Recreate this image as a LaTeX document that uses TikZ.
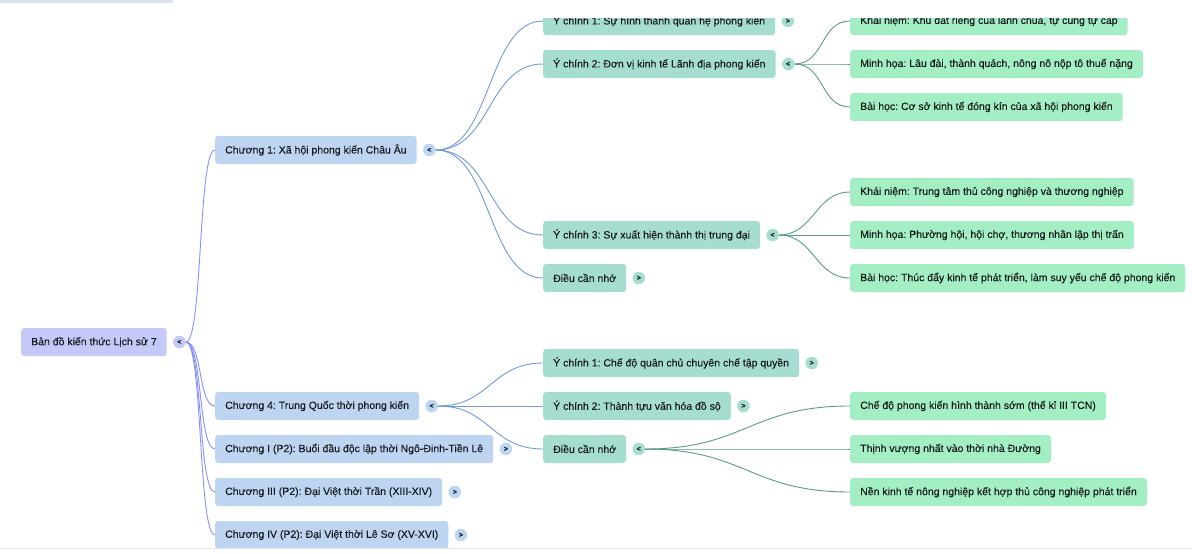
\documentclass[tikz,border=0pt]{standalone}
\usepackage{fontspec}
\setmainfont{Liberation Sans}[FakeBold=0.15]
\frenchspacing
\usetikzlibrary{positioning}
\definecolor{txt}{HTML}{16191D}
\definecolor{rootc}{HTML}{C4C9F8}
\definecolor{chc}{HTML}{BDD5F0}
\definecolor{yc}{HTML}{A6DDD1}
\definecolor{gc}{HTML}{A3EEC3}
\definecolor{rootedge}{HTML}{8990F5}
\definecolor{chedge}{HTML}{6F9AD8}
\definecolor{yedge}{HTML}{5A9B8C}
\definecolor{topstrip}{HTML}{DCE2EA}
\definecolor{botline}{HTML}{E3E6EA}
\tikzset{
  box/.style={rectangle, rounded corners=3pt, minimum height=28pt, inner xsep=10pt, inner ysep=0pt, anchor=west, font=\fontsize{10.5}{12}\selectfont, text=txt},
  rootbox/.style={box, fill=rootc},
  chbox/.style={box, fill=chc},
  ybox/.style={box, fill=yc},
  gbox/.style={box, fill=gc},
  btn/.style={circle, minimum size=12.5pt, inner sep=0pt, font=\fontsize{7}{8}\selectfont\bfseries, text=txt},
  redge/.style={draw=rootedge, line width=0.9pt},
  cedge/.style={draw=chedge, line width=0.9pt},
  yedg/.style={draw=yedge, line width=0.9pt}
}
\begin{document}
\begin{tikzpicture}[x=1pt,y=-1pt]
\useasboundingbox (0,0) rectangle (1192,554);
\fill[white] (0,0) rectangle (1192,554);
\begin{scope}
\clip (0,18) rectangle (1192,548);
% root
\node[rootbox] (root) at (21,342) {Bản đồ kiến thức Lịch sử 7};
\node[btn, fill=rootc, right=6pt of root] (rb) {<};
% chapters
\node[chbox] (c1) at (215,150) {Chương 1: Xã hội phong kiến Châu Âu};
\node[btn, fill=chc, right=6pt of c1] (b1) {<};
\node[chbox] (c4) at (215,406) {Chương 4: Trung Quốc thời phong kiến};
\node[btn, fill=chc, right=6pt of c4] (b4) {<};
\node[chbox] (c5) at (215,449) {Chương I (P2): Buổi đầu độc lập thời Ngô-Đinh-Tiền Lê};
\node[btn, fill=chc, right=6pt of c5] (b5) {>};
\node[chbox] (c6) at (215,492) {Chương III (P2): Đại Việt thời Trần (XIII-XIV)};
\node[btn, fill=chc, right=6pt of c6] (b6) {>};
\node[chbox] (c7) at (215,535) {Chương IV (P2): Đại Việt thời Lê Sơ (XV-XVI)};
\node[btn, fill=chc, right=6pt of c7] (b7) {>};
% level 2, chapter 1
\node[ybox] (y1) at (543,21) {Ý chính 1: Sự hình thành quan hệ phong kiến};
\node[btn, fill=yc, right=6pt of y1] (yb1) {>};
\node[ybox] (y2) at (543,64) {Ý chính 2: Đơn vị kinh tế Lãnh địa phong kiến};
\node[btn, fill=yc, right=6pt of y2] (yb2) {<};
\node[ybox] (y3) at (543,235) {Ý chính 3: Sự xuất hiện thành thị trung đại};
\node[btn, fill=yc, right=6pt of y3] (yb3) {<};
\node[ybox] (y4) at (543,278) {Điều cần nhớ};
\node[btn, fill=yc, right=6pt of y4] (yb4) {>};
% level 2, chapter 4
\node[ybox] (z1) at (543,363) {Ý chính 1: Chế độ quân chủ chuyên chế tập quyền};
\node[btn, fill=yc, right=6pt of z1] (zb1) {>};
\node[ybox] (z2) at (543,406) {Ý chính 2: Thành tựu văn hóa đồ sộ};
\node[btn, fill=yc, right=6pt of z2] (zb2) {>};
\node[ybox] (z3) at (543,449) {Điều cần nhớ};
\node[btn, fill=yc, right=6pt of z3] (zb3) {<};
% level 3
\node[gbox] (k1) at (850,21) {Khái niệm: Khu đất riêng của lãnh chúa, tự cung tự cấp};
\node[gbox] (k2) at (850,64) {Minh họa: Lâu đài, thành quách, nông nô nộp tô thuế nặng};
\node[gbox] (k3) at (850,107) {Bài học: Cơ sở kinh tế đóng kín của xã hội phong kiến};
\node[gbox] (k4) at (850,192) {Khái niệm: Trung tâm thủ công nghiệp và thương nghiệp};
\node[gbox] (k5) at (850,235) {Minh họa: Phường hội, hội chợ, thương nhân lập thị trấn};
\node[gbox] (k6) at (850,278) {Bài học: Thúc đẩy kinh tế phát triển, làm suy yếu chế độ phong kiến};
\node[gbox] (m1) at (850,406) {Chế độ phong kiến hình thành sớm (thế kỉ III TCN)};
\node[gbox] (m2) at (850,449) {Thịnh vượng nhất vào thời nhà Đường};
\node[gbox] (m3) at (850,492) {Nền kinh tế nông nghiệp kết hợp thủ công nghiệp phát triển};
% edges root
\foreach \t in {c1,c4,c5,c6,c7}
  \draw[redge] (rb.east) .. controls +(17,0) and +(-17,0) .. (\t.west);
% edges chapter 1
\foreach \t in {y1,y2,y3,y4}
  \draw[cedge] (b1.east) .. controls +(56,0) and +(-56,0) .. (\t.west);
% edges chapter 4
\foreach \t in {z1,z2,z3}
  \draw[cedge] (b4.east) .. controls +(52,0) and +(-52,0) .. (\t.west);
% edges level 3
\foreach \t in {k1,k2,k3}
  \draw[yedg] (yb2.east) .. controls +(30,0) and +(-30,0) .. (\t.west);
\foreach \t in {k4,k5,k6}
  \draw[yedg] (yb3.east) .. controls +(35,0) and +(-35,0) .. (\t.west);
\foreach \t in {m1,m2,m3}
  \draw[yedg] (zb3.east) .. controls +(100,0) and +(-100,0) .. (\t.west);
\end{scope}
\fill[topstrip] (0,0) rectangle (173,2.5);
\draw[botline, line width=1.2pt] (0,548.5) -- (1192,548.5);
\end{tikzpicture}
\end{document}
